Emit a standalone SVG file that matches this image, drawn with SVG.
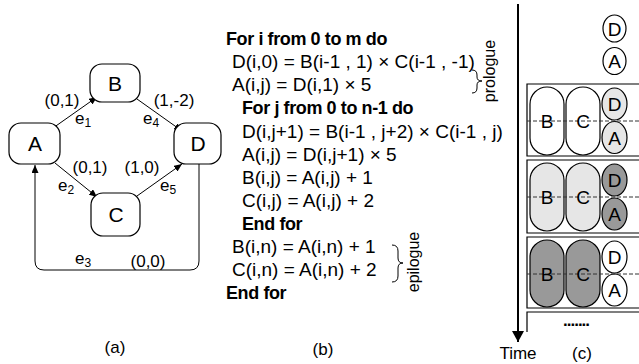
<svg xmlns="http://www.w3.org/2000/svg" width="639" height="364" viewBox="0 0 639 364">
<defs>
<marker id="arr" markerUnits="userSpaceOnUse" markerWidth="9" markerHeight="7" refX="8" refY="3.5" orient="auto">
<path d="M0,0 L8,3.5 L0,7 z" fill="#000"/>
</marker>
<marker id="tarr" markerUnits="userSpaceOnUse" markerWidth="12" markerHeight="12" refX="11" refY="6" orient="auto">
<path d="M0,0 L11,6 L0,12 z" fill="#000"/>
</marker>
<style>
text{font-family:"Liberation Sans",Arial,sans-serif;fill:#000}
.node{fill:#fff;stroke:#000;stroke-width:1.2}
.nl{font-size:21px;text-anchor:middle}
.lbl{font-size:17px;text-anchor:middle}
.el{font-size:17px}
.sub{font-size:12px}
.edge{fill:none;stroke:#000;stroke-width:1;marker-end:url(#arr)}
.code{font-size:19px}
.kw{font-size:18px;font-weight:bold;letter-spacing:-0.4px}
.brace{fill:none;stroke:#000;stroke-width:1}
.cap{font-size:17px;text-anchor:middle}
.box{fill:#fff;stroke:#000;stroke-width:1.2}
.pill{stroke:#000;stroke-width:1.2}
.circ{stroke:#000;stroke-width:1.2}
.w{fill:#fff}
.lg{fill:#e6e6e6}
.dg{fill:#999}
.pl{font-size:19px;text-anchor:middle}
.dash{stroke:#333;stroke-width:1;stroke-dasharray:4,2;fill:none}
</style>
</defs>

<!-- Panel (a) -->
<g id="connectors">
<path class="edge" d="M53,128 L97,97"/>
<path class="edge" d="M137,99 L182,131"/>
<path class="edge" d="M55,163 L97,197"/>
<path class="edge" d="M137,196 L182,164"/>
<path class="edge" d="M199,164 V261 Q199,270 190,270 H44 Q35,270 35,261 V165"/>
</g>
<g id="edge-labels">
<text class="lbl" x="62" y="106">(0,1)</text>
<text class="el" x="75" y="124">e<tspan class="sub" dy="3">1</tspan></text>
<text class="lbl" x="174" y="106">(1,-2)</text>
<text class="el" x="143" y="124">e<tspan class="sub" dy="3">4</tspan></text>
<text class="lbl" x="90" y="173">(0,1)</text>
<text class="lbl" x="142" y="173">(1,0)</text>
<text class="el" x="58" y="191">e<tspan class="sub" dy="3">2</tspan></text>
<text class="el" x="160" y="191">e<tspan class="sub" dy="3">5</tspan></text>
<text class="el" x="75" y="264">e<tspan class="sub" dy="3">3</tspan></text>
<text class="lbl" x="148" y="267">(0,0)</text>
</g>
<g id="node-A"><rect class="node" x="9" y="123" width="51" height="41" rx="12"/><text class="nl" x="35" y="151">A</text></g>
<g id="node-B"><rect class="node" x="90" y="64" width="50" height="38" rx="12"/><text class="nl" x="115" y="91">B</text></g>
<g id="node-C"><rect class="node" x="91" y="193" width="49" height="43" rx="12"/><text class="nl" x="116" y="222">C</text></g>
<g id="node-D"><rect class="node" x="174" y="123" width="47" height="41" rx="12"/><text class="nl" x="198" y="151">D</text></g>
<text class="cap" x="115" y="353">(a)</text>

<!-- Panel (b) -->
<g id="code">
<text class="kw" x="226" y="45">For i from 0 to m do</text>
<text class="code" x="232" y="68">D(i,0) = B(i-1 , 1) × C(i-1 , -1)</text>
<text class="code" x="232" y="91">A(i,j) = D(i,1) × 5</text>
<text class="kw" x="242" y="114">For j from 0 to n-1 do</text>
<text class="code" x="242" y="138">D(i,j+1) = B(i-1 , j+2) × C(i-1 , j)</text>
<text class="code" x="242" y="161">A(i,j) = D(i,j+1) × 5</text>
<text class="code" x="242" y="184">B(i,j) = A(i,j) + 1</text>
<text class="code" x="242" y="207">C(i,j) = A(i,j) + 2</text>
<text class="kw" x="242" y="230">End for</text>
<text class="code" x="232" y="253">B(i,n) = A(i,n) + 1</text>
<text class="code" x="232" y="276">C(i,n) = A(i,n) + 2</text>
<text class="kw" x="226" y="299">End for</text>
</g>
<g id="prologue">
<path class="brace" d="M472,70 Q477,70 477,75 V77 Q477,81 482,81 Q477,81 477,85 V88 Q477,93 472,93"/>
<text font-size="16" text-anchor="middle" transform="translate(495,71) rotate(-90)">prologue</text>
</g>
<g id="epilogue">
<path class="brace" d="M392,245 Q398,245 398,251 V258 Q398,263 403,263 Q398,263 398,268 V276 Q398,282 392,282"/>
<text font-size="16" text-anchor="middle" transform="translate(419,262) rotate(-90)">epilogue</text>
</g>
<text class="cap" x="323" y="355">(b)</text>

<!-- Panel (c) -->
<g id="time-axis">
<line x1="518" y1="4" x2="518" y2="342" stroke="#000" stroke-width="2" marker-end="url(#tarr)"/>
<text class="cap" x="518" y="359">Time</text>
</g>
<g id="top-circles">
<ellipse class="circ w" cx="614.5" cy="28.5" rx="11.5" ry="13.5"/><text class="pl" x="614.5" y="35.5">D</text>
<ellipse class="circ w" cx="614.5" cy="61" rx="11.5" ry="13.5"/><text class="pl" x="614.5" y="68">A</text>
</g>
<g id="stage-1">
<path class="box" d="M641,84 H527 V156 H641"/>
<rect class="pill w" x="530" y="87" width="34" height="68" rx="17"/>
<rect class="pill w" x="566" y="87" width="34" height="68" rx="17"/>
<ellipse class="circ lg" cx="614.5" cy="104" rx="12.5" ry="16"/>
<ellipse class="circ lg" cx="614.5" cy="137.5" rx="12.5" ry="16"/>
<line class="dash" x1="527" y1="121" x2="639" y2="121"/>
<text class="pl" x="547" y="128">B</text><text class="pl" x="583" y="128">C</text>
<text class="pl" x="614.5" y="111">D</text><text class="pl" x="614.5" y="145">A</text>
</g>
<g id="stage-2">
<path class="box" d="M641,160 H527 V233 H641"/>
<rect class="pill lg" x="530" y="163" width="34" height="68" rx="17"/>
<rect class="pill lg" x="566" y="163" width="34" height="68" rx="17"/>
<ellipse class="circ dg" cx="614.5" cy="180" rx="12.5" ry="16"/>
<ellipse class="circ dg" cx="614.5" cy="214" rx="12.5" ry="16"/>
<line class="dash" x1="527" y1="197" x2="639" y2="197"/>
<text class="pl" x="547" y="204">B</text><text class="pl" x="583" y="204">C</text>
<text class="pl" x="614.5" y="187">D</text><text class="pl" x="614.5" y="221">A</text>
</g>
<g id="stage-3">
<path class="box" d="M641,237 H527 V308 H641"/>
<rect class="pill dg" x="530" y="240" width="34" height="67" rx="17"/>
<rect class="pill dg" x="566" y="240" width="34" height="67" rx="17"/>
<ellipse class="circ w" cx="614.5" cy="257" rx="12.5" ry="16"/>
<ellipse class="circ w" cx="614.5" cy="290" rx="12.5" ry="16"/>
<line class="dash" x1="527" y1="274" x2="639" y2="274"/>
<text class="pl" x="547" y="281">B</text><text class="pl" x="583" y="281">C</text>
<text class="pl" x="614.5" y="264">D</text><text class="pl" x="614.5" y="297">A</text>
</g>
<g id="stage-4">
<path fill="none" stroke="#000" stroke-width="1.2" d="M641,312 H527 V332"/>
<text font-size="17" font-weight="bold" x="563" y="326" letter-spacing="-1">.......</text>
</g>
<text class="cap" x="582" y="359">(c)</text>
</svg>
